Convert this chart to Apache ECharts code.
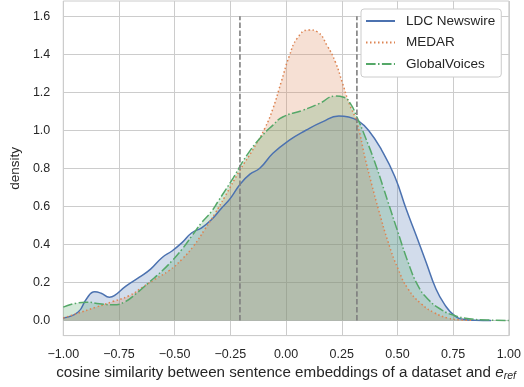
<!DOCTYPE html>
<html>
<head>
<meta charset="utf-8">
<script src="https://cdn.jsdelivr.net/npm/echarts@6/dist/echarts.min.js"></script>
<style>
  html, body { margin: 0; padding: 0; background: #fff; }
  #chart { width: 524px; height: 387px; }
</style>
</head>
<body>
<div id="chart"></div>
<script>
// KDE curves
const ldcX = [-1.0, -0.933, -0.896, -0.859, -0.830, -0.793, -0.771, -0.719, -0.66, -0.608, -0.556, -0.512, -0.467, -0.423, -0.379, -0.334, -0.29, -0.266, -0.245, -0.207, -0.162, -0.118, -0.059, 0.015, 0.089, 0.163, 0.237, 0.281, 0.326, 0.37, 0.429, 0.488, 0.54, 0.585, 0.629, 0.673, 0.71, 0.755, 0.8, 0.85, 0.92];
const ldcY = [0.0125, 0.044, 0.113, 0.151, 0.143, 0.122, 0.13, 0.18, 0.226, 0.27, 0.331, 0.365, 0.409, 0.461, 0.487, 0.531, 0.59, 0.62, 0.65, 0.715, 0.769, 0.8, 0.879, 0.948, 1.0, 1.044, 1.075, 1.07, 1.048, 1.0, 0.896, 0.757, 0.583, 0.444, 0.305, 0.165, 0.087, 0.026, 0.005, 0.001, 0.0];

const medarX = [-1.0, -0.941, -0.852, -0.778, -0.704, -0.645, -0.586, -0.526, -0.467, -0.415, -0.364, -0.32, -0.275, -0.207, -0.148, -0.096, -0.059, -0.022, 0.015, 0.052, 0.101, 0.141, 0.185, 0.222, 0.252, 0.281, 0.318, 0.355, 0.385, 0.415, 0.459, 0.503, 0.548, 0.607, 0.666, 0.725, 0.78, 0.84];
const medarY = [0.0125, 0.035, 0.07, 0.099, 0.13, 0.174, 0.218, 0.261, 0.322, 0.391, 0.48, 0.56, 0.65, 0.79, 0.9, 1.009, 1.114, 1.253, 1.392, 1.487, 1.528, 1.517, 1.444, 1.357, 1.253, 1.148, 1.04, 0.853, 0.713, 0.583, 0.409, 0.27, 0.165, 0.087, 0.04, 0.0125, 0.003, 0.0];

const gvX = [-1.0, -0.941, -0.896, -0.837, -0.778, -0.726, -0.675, -0.615, -0.556, -0.512, -0.467, -0.423, -0.379, -0.334, -0.305, -0.237, -0.178, -0.118, -0.059, -0.015, 0.074, 0.148, 0.222, 0.259, 0.289, 0.318, 0.355, 0.4, 0.459, 0.503, 0.548, 0.592, 0.636, 0.696, 0.755, 0.821, 0.9, 1.0];
const gvY = [0.07, 0.091, 0.096, 0.087, 0.082, 0.096, 0.139, 0.2, 0.261, 0.313, 0.374, 0.444, 0.514, 0.574, 0.626, 0.75, 0.865, 0.957, 1.027, 1.07, 1.105, 1.14, 1.18, 1.174, 1.14, 1.07, 0.966, 0.827, 0.618, 0.461, 0.305, 0.183, 0.113, 0.057, 0.026, 0.009, 0.002, 0.0];

const seriesNames = ['LDC Newswire', 'MEDAR', 'GlobalVoices'];
const thresholds = [-0.207, 0.318];
const vlineTop = 1.6;
const yTicks = [0, 0.2, 0.4, 0.6, 0.8, 1.0, 1.2, 1.4, 1.6];

const zip = (xs, ys) => xs.map((x, i) => [x, ys[i]]);
const minus = s => String(s).replace('-', '\u2212');
const font = '"Liberation Sans", Arial, sans-serif';
const textColor = '#262626';

function kde(name, xs, ys, color, type) {
    return {
        name: name,
        type: 'line',
        data: zip(xs, ys),
        smooth: 0.5,
        symbol: 'none',
        lineStyle: { color: color, width: 1.5, type: type },
        itemStyle: { color: color },
        areaStyle: { color: color, opacity: 0.25 },
        z: 2
    };
}

const chart = echarts.init(document.getElementById('chart'));

const vlines = thresholds.map(x => ({
    type: 'line',
    data: [[x, 0], [x, vlineTop]],
    symbol: 'none',
    silent: true,
    lineStyle: { color: '#7f7f7f', width: 1.6, type: [5.5, 2.4] },
    z: 3
}));

chart.setOption({
    animation: false,
    textStyle: { fontFamily: font },
    grid: {
        left: 58, right: 15, top: 1, bottom: 50,
        show: true, borderColor: '#cccccc', borderWidth: 1
    },
    legend: {
        data: seriesNames,
        orient: 'vertical',
        left: 361, top: 9,
        padding: [5, 6, 6, 4],
        itemWidth: 29, itemHeight: 12, itemGap: 7.5,
        itemStyle: { opacity: 0 },
        backgroundColor: '#ffffff',
        borderColor: '#cccccc', borderWidth: 1, borderRadius: 3,
        textStyle: { fontFamily: font, fontSize: 13.5, color: textColor, padding: [0, 0, 0, 6] }
    },
    xAxis: {
        type: 'value',
        min: -1, max: 1, interval: 0.25,
        name: 'cosine similarity between sentence embeddings of a dataset and {e|e}{r|ref}',
        nameLocation: 'middle',
        nameGap: 28,
        nameTextStyle: {
            fontFamily: font, fontSize: 15.2, color: textColor,
            rich: {
                e: { fontFamily: font, fontSize: 15.2, fontStyle: 'italic', color: textColor },
                r: { fontFamily: font, fontSize: 10.5, fontStyle: 'italic', color: textColor, padding: [7, 0, 0, 0] }
            }
        },
        axisLine: { onZero: false, lineStyle: { color: '#cccccc' } },
        axisTick: { show: false },
        axisLabel: {
            fontFamily: font, fontSize: 12.5, color: textColor, margin: 12,
            formatter: v => minus(v.toFixed(2))
        },
        splitLine: { lineStyle: { color: '#cccccc', width: 1 } }
    },
    yAxis: {
        type: 'value',
        min: -0.08, max: 1.68,
        name: 'density',
        nameLocation: 'middle',
        nameGap: 36,
        nameTextStyle: { fontFamily: font, fontSize: 13.5, color: textColor },
        axisLine: { show: true, lineStyle: { color: '#cccccc' } },
        axisTick: { show: false, customValues: yTicks },
        axisLabel: {
            fontFamily: font, fontSize: 12.5, color: textColor, margin: 13,
            customValues: yTicks,
            formatter: v => v.toFixed(1)
        },
        splitLine: { lineStyle: { color: '#cccccc', width: 1 } }
    },
    series: [
        kde(seriesNames[0], ldcX, ldcY, '#4C72B0', 'solid'),
        kde(seriesNames[1], medarX, medarY, '#DD8452', [1.5, 2.5]),
        kde(seriesNames[2], gvX, gvY, '#55A868', [9.6, 2.4, 1.5, 2.4])
    ].concat(vlines)
});
</script>
</body>
</html>
